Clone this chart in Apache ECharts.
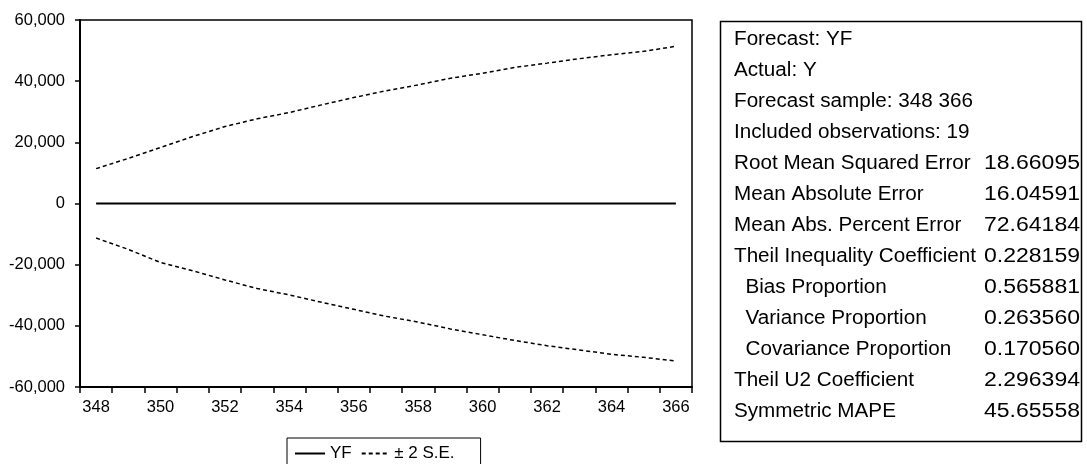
<!DOCTYPE html>
<html>
<head>
<meta charset="utf-8">
<title>Forecast YF</title>
<script src="https://cdn.jsdelivr.net/npm/echarts@6/dist/echarts.min.js"></script>
<style>
  html, body { margin: 0; padding: 0; background: #fff; }
  #chart { width: 1087px; height: 464px; }
</style>
</head>
<body>
<div id="chart"></div>
<script>
// forecast sample 348..366
var periods = ['348', '349', '350', '351', '352', '353', '354', '355', '356', '357',
               '358', '359', '360', '361', '362', '363', '364', '365', '366'];
// forecast sits on the zero line at this scale
var yf = [0, 0, 0, 0, 0, 0, 0, 0, 0, 0, 0, 0, 0, 0, 0, 0, 0, 0, 0];
var upperSE = [11400, 14750, 18300, 21900, 25150, 27700, 29750, 32250, 34650, 36850,
               38800, 40950, 42600, 44500, 45900, 47350, 48650, 49750, 51400];
var lowerSE = [-11300, -15000, -19300, -22000, -25000, -27800, -29900, -32300, -34600, -36900,
               -38800, -41000, -42900, -44800, -46500, -47900, -49300, -50300, -51500];

var statLabels = ['Forecast: YF', 'Actual: Y', 'Forecast sample: 348 366', 'Included observations: 19',
                  'Root Mean Squared Error', 'Mean Absolute Error', 'Mean Abs. Percent Error',
                  'Theil Inequality Coefficient', '  Bias Proportion', '  Variance Proportion',
                  '  Covariance Proportion', 'Theil U2 Coefficient', 'Symmetric MAPE'];
var statValues = ['', '', '', '', '18.66095', '16.04591', '72.64184', '0.228159',
                  '0.565881', '0.263560', '0.170560', '2.296394', '45.65558'];

var FONT = '"Liberation Sans", Arial, sans-serif';

var myChart = echarts.init(document.getElementById('chart'));

// stats table on the right (eviews text is a bit wider than arial, so stretch it)
var graphics = [{
  type: 'rect',
  shape: { x: 720.5, y: 21.5, width: 361, height: 420 },
  style: { fill: 'none', stroke: '#000', lineWidth: 1.5 }
}];
for (var i = 0; i < statLabels.length; i++) {
  var rowY = 40 + i * 31;
  graphics.push({
    type: 'text', x: 734, y: rowY, scaleX: 1.06,
    style: { text: statLabels[i], fill: '#000', font: '19.5px ' + FONT, verticalAlign: 'middle' }
  });
  if (statValues[i] !== '') {
    graphics.push({
      type: 'text', x: 1080, y: rowY, scaleX: 1.18,
      style: { text: statValues[i], fill: '#000', font: '19.5px ' + FONT, align: 'right', verticalAlign: 'middle' }
    });
  }
}

var option = {
  animation: false,
  backgroundColor: '#fff',
  textStyle: { fontFamily: FONT, color: '#000' },
  grid: {
    left: 80, top: 20, right: 395, bottom: 77,
    show: true, borderColor: '#000', borderWidth: 1.5
  },
  legend: {
    data: [
      { name: 'YF', icon: 'path://M0,0H30V2H0Z' },
      { name: '± 2 S.E.', icon: 'path://M0,0H4V2H0Z M7,0H11V2H7Z M14,0H18V2H14Z M21,0H25V2H21Z' }
    ],
    left: 287, top: 438,
    orient: 'horizontal',
    itemWidth: 30, itemHeight: 2, itemGap: 10,
    padding: [7, 26, 24, 8],
    borderColor: '#000', borderWidth: 1, borderRadius: 0,
    selectedMode: false,
    textStyle: { fontSize: 17, color: '#000', fontFamily: FONT }
  },
  xAxis: {
    type: 'category',
    data: periods,
    boundaryGap: true,
    axisLine: { show: true, onZero: false, lineStyle: { color: '#000', width: 2 } },
    axisTick: { show: true, interval: 0, length: 6, lineStyle: { color: '#000', width: 1.5 } },
    axisLabel: { interval: 1, fontSize: 16.5, color: '#000', margin: 12 },
    splitLine: { show: false }
  },
  yAxis: {
    type: 'value',
    min: -60000, max: 60000, interval: 20000,
    axisLine: { show: true, lineStyle: { color: '#000', width: 2 } },
    axisTick: { show: true, length: 5, lineStyle: { color: '#000', width: 1.5 } },
    axisLabel: {
      fontSize: 16.5, color: '#000', margin: 15,
      formatter: function (v) { return v.toLocaleString('en-US'); }
    },
    splitLine: { show: false }
  },
  series: [
    {
      name: 'YF', type: 'line', data: yf,
      symbol: 'none',
      itemStyle: { color: '#000' },
      lineStyle: { color: '#000', width: 2 }
    },
    {
      name: '± 2 S.E.', type: 'line', data: upperSE,
      symbol: 'none',
      itemStyle: { color: '#000' },
      lineStyle: { color: '#000', width: 1.5, type: [4, 3] }
    },
    {
      name: '± 2 S.E.', type: 'line', data: lowerSE,
      symbol: 'none',
      itemStyle: { color: '#000' },
      lineStyle: { color: '#000', width: 1.5, type: [4, 3] }
    }
  ],
  graphic: graphics
};

myChart.setOption(option);
</script>
</body>
</html>
